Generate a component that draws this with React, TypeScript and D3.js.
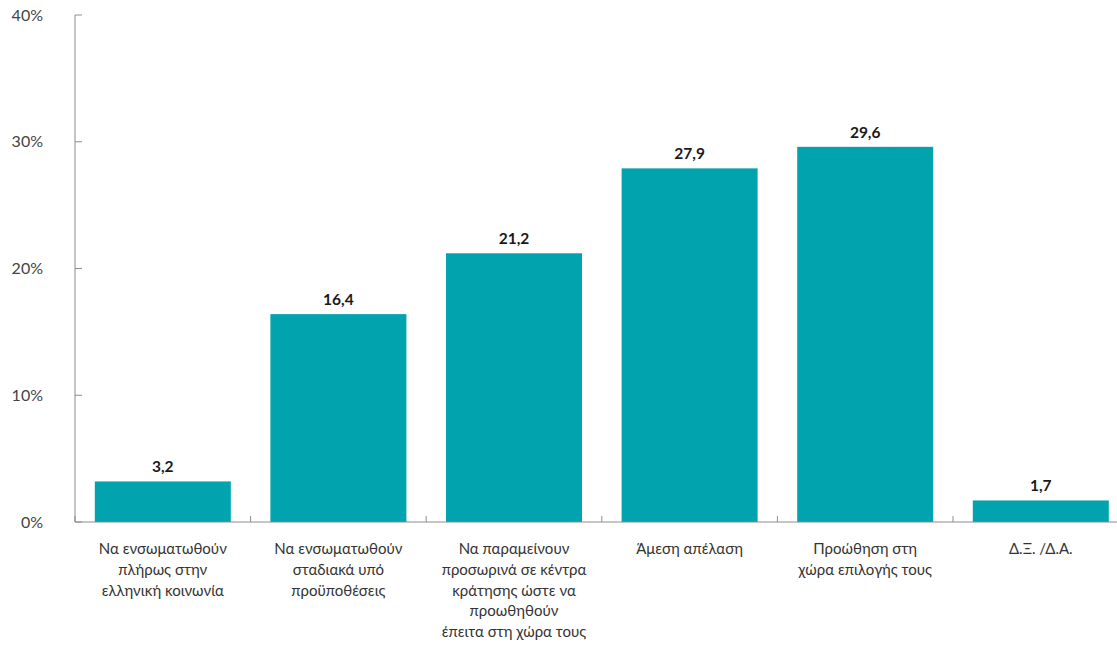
import React from "react";
import * as d3 from "d3";

const categories: string[][] = [
  ["Να ενσωματωθούν", "πλήρως στην", "ελληνική κοινωνία"],
  ["Να ενσωματωθούν", "σταδιακά υπό", "προϋποθέσεις"],
  ["Να παραμείνουν", "προσωρινά σε κέντρα", "κράτησης ώστε να", "προωθηθούν", "έπειτα στη χώρα τους"],
  ["Άμεση απέλαση"],
  ["Προώθηση στη", "χώρα επιλογής τους"],
  ["Δ.Ξ. /Δ.Α."],
];
const values: number[] = [3.2, 16.4, 21.2, 27.9, 29.6, 1.7];
const yTicks: number[] = [0, 10, 20, 30, 40];

const W = 1117;
const H = 646;
const left = 75;
const bottom = 522;
const top = 15;

export default function App() {
  const x = d3
    .scaleBand<number>()
    .domain(values.map((_, i) => i))
    .range([left, left + 175.6 * 6])
    .paddingInner(0.2255)
    .paddingOuter(0.11275);
  const y = d3.scaleLinear().domain([0, 40]).range([bottom, top]);
  const step = x.step();
  const axisColor = "#8c8c8c";
  const font = "Lato, 'Noto Sans', sans-serif";
  const fmt = (v: number) => v.toFixed(1).replace(".", ",");

  return (
    <svg
      width={W}
      height={H}
      style={{ position: "absolute", left: 0, top: 0, background: "#fff" }}
      fontFamily={font}
    >
      {values.map((v, i) => (
        <rect
          key={i}
          x={x(i)!}
          y={y(v)}
          width={x.bandwidth()}
          height={bottom - y(v)}
          fill="#00a3ae"
        />
      ))}
      {values.map((v, i) => (
        <text
          key={i}
          x={x(i)! + x.bandwidth() / 2}
          y={y(v) - 9}
          textAnchor="middle"
          fontSize={15.5}
          fontWeight={700}
          fill="#1a1a1a"
        >
          {fmt(v)}
        </text>
      ))}
      <line x1={left} x2={left} y1={top} y2={bottom} stroke={axisColor} strokeWidth={1} />
      {yTicks.map((t) => (
        <g key={t}>
          <line x1={left} x2={left + 7} y1={y(t)} y2={y(t)} stroke={axisColor} />
          <text
            x={43}
            y={y(t)}
            dy="0.35em"
            textAnchor="end"
            fontSize={16}
            fill="#444"
          >
            {t}%
          </text>
        </g>
      ))}
      <line x1={left} x2={W} y1={bottom} y2={bottom} stroke={axisColor} strokeWidth={1} />
      {values.map((_, i) => {
        const bx = x(i)! - x.paddingOuter() * step;
        return (
          <line key={i} x1={bx} x2={bx} y1={bottom} y2={bottom - 6} stroke={axisColor} />
        );
      })}
      {categories.map((lines, i) => (
        <text
          key={i}
          x={x(i)! + x.bandwidth() / 2}
          y={549}
          textAnchor="middle"
          fontSize={15}
          fill="#333"
        >
          {lines.map((l, j) => (
            <tspan key={j} x={x(i)! + x.bandwidth() / 2} y={549 + j * 20.7} dy="0.35em">
              {l}
            </tspan>
          ))}
        </text>
      ))}
    </svg>
  );
}
